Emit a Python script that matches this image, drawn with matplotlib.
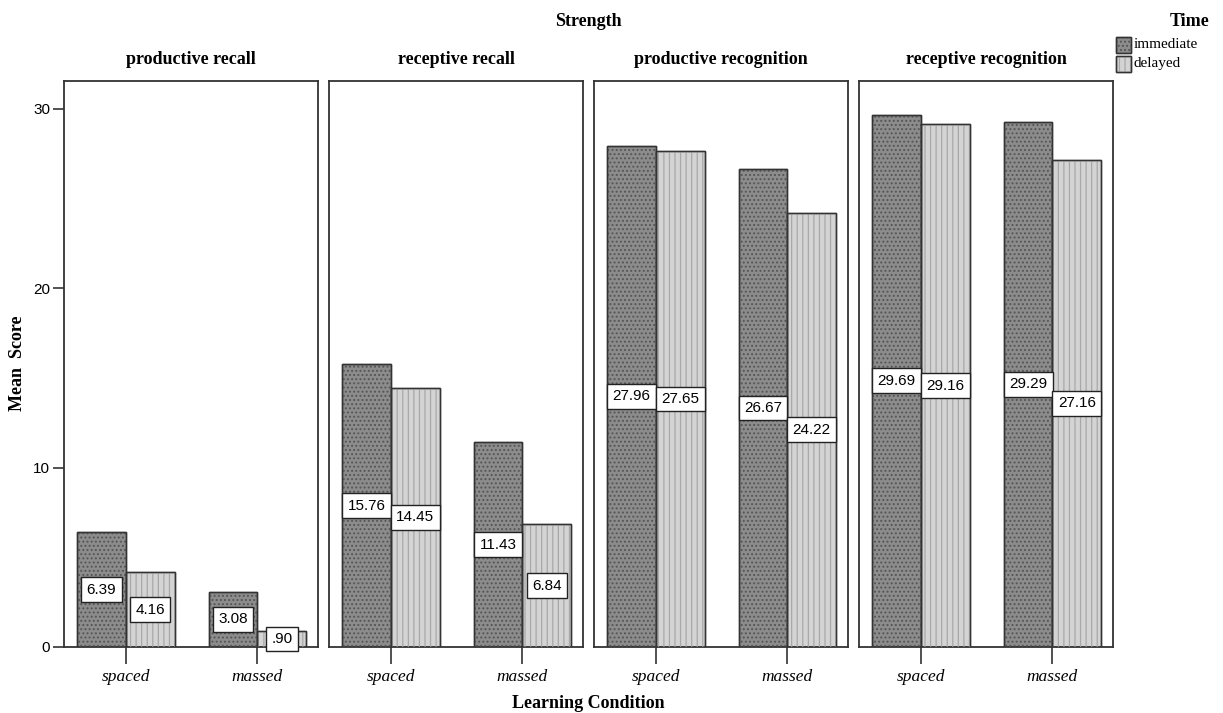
import matplotlib
matplotlib.use("Agg")
import matplotlib.pyplot as plt
import numpy as np
from matplotlib.patches import Rectangle

strengths = ["productive recall", "receptive recall", "productive recognition", "receptive recognition"]
conditions = ["spaced", "massed"]
times = ["immediate", "delayed"]
immediate = [[6.39, 3.08], [15.76, 11.43], [27.96, 26.67], [29.69, 29.29]]
delayed = [[4.16, 0.90], [14.45, 6.84], [27.65, 24.22], [29.16, 27.16]]
labels_imm = [["6.39", "3.08"], ["15.76", "11.43"], ["27.96", "26.67"], ["29.69", "29.29"]]
labels_del = [["4.16", ".90"], ["14.45", "6.84"], ["27.65", "24.22"], ["29.16", "27.16"]]
yticks = [0, 10, 20, 30]

plt.rcParams["hatch.linewidth"] = 0.9

W, H = 1223, 713
fig = plt.figure(figsize=(W / 100, H / 100), dpi=100)

serif = "Liberation Serif"
sans = "Liberation Sans"

lefts = [64, 329, 594, 859]
pw = 254
top, bottom = 81, 647

imm_face = "#8c8c8c"
del_face = "#d4d4d4"
imm_hc = "#555555"
del_hc = "#a8a8a8"
bw = 0.37

for i, name in enumerate(strengths):
    ax = fig.add_axes([lefts[i] / W, 1 - bottom / H, pw / W, (bottom - top) / H])
    x = np.arange(len(conditions))
    ax.bar(x - bw / 2, immediate[i], bw, color=imm_face, edgecolor="#333333", linewidth=1.0, zorder=2)
    ax.bar(x - bw / 2, immediate[i], bw, color="none", edgecolor=imm_hc, hatch="....", linewidth=0, zorder=3)
    ax.bar(x + bw / 2, delayed[i], bw, color=del_face, edgecolor="#333333", linewidth=1.0, zorder=2)
    ax.bar(x + bw / 2, delayed[i], bw, color="none", edgecolor=del_hc, hatch="|||", linewidth=0, zorder=3)
    ax.bar(x + bw / 2, delayed[i], bw, color="none", edgecolor="#333333", linewidth=1.0, zorder=4)
    ax.bar(x - bw / 2, immediate[i], bw, color="none", edgecolor="#333333", linewidth=1.0, zorder=4)
    for j in range(len(conditions)):
        ax.text(x[j] - bw / 2, immediate[i][j] / 2, labels_imm[i][j], ha="center", va="center",
                fontsize=11, family=sans, zorder=5,
                bbox=dict(boxstyle="square,pad=0.35", fc="white", ec="#222222", lw=1.0))
        ax.text(x[j] + bw / 2, delayed[i][j] / 2, labels_del[i][j], ha="center", va="center",
                fontsize=11, family=sans, zorder=5,
                bbox=dict(boxstyle="square,pad=0.35", fc="white", ec="#222222", lw=1.0))
    ax.set_xlim(-0.47, 1.46)
    ax.set_ylim(0, 31.56)
    ax.set_xticks(x)
    ax.set_xticklabels(conditions, fontsize=12.5, family=serif, style="italic")
    ax.tick_params(axis="x", length=12, width=1.2, color="#333333", pad=4)
    if i == 0:
        ax.set_yticks(yticks)
        ax.set_yticklabels([str(v) for v in yticks], fontsize=11, family=sans)
        ax.tick_params(axis="y", length=8, width=1.2, color="#333333", pad=2)
    else:
        ax.set_yticks([])
    for s in ax.spines.values():
        s.set_linewidth(1.3)
        s.set_color("#333333")
    ax.set_title(name, fontsize=13, family=serif, fontweight="bold", pad=12)

fig.text(18 / W, 1 - 363 / H, "Mean  Score", ha="center", va="center", rotation=90,
         fontsize=13, family=serif, fontweight="bold")
fig.text(588 / W, 1 - 22 / H, "Strength", ha="center", va="center", fontsize=13, family=serif, fontweight="bold")
fig.text(588 / W, 1 - 703 / H, "Learning Condition", ha="center", va="center", fontsize=13, family=serif, fontweight="bold")

# Legend
fig.text(1190 / W, 1 - 22 / H, "Time", ha="center", va="center", fontsize=13, family=serif, fontweight="bold")
legend_faces = [imm_face, del_face]
legend_hatch = ["....", "|||"]
legend_hc = [imm_hc, del_hc]
for k, t in enumerate(times):
    yc = 45 + k * 19
    rx, ry, rw, rh = 1116, yc - 8, 15, 16
    fig.patches.append(Rectangle((rx / W, 1 - (ry + rh) / H), rw / W, rh / H, transform=fig.transFigure,
                                 facecolor=legend_faces[k], edgecolor="#333333", lw=1.0))
    fig.patches.append(Rectangle((rx / W, 1 - (ry + rh) / H), rw / W, rh / H, transform=fig.transFigure,
                                 facecolor="none", edgecolor=legend_hc[k], hatch=legend_hatch[k], lw=0))
    fig.patches.append(Rectangle((rx / W, 1 - (ry + rh) / H), rw / W, rh / H, transform=fig.transFigure,
                                 facecolor="none", edgecolor="#333333", lw=1.0))
    fig.text(1134 / W, 1 - yc / H, t, ha="left", va="center", fontsize=11, family=serif)

fig.savefig("out.png", dpi=100)
